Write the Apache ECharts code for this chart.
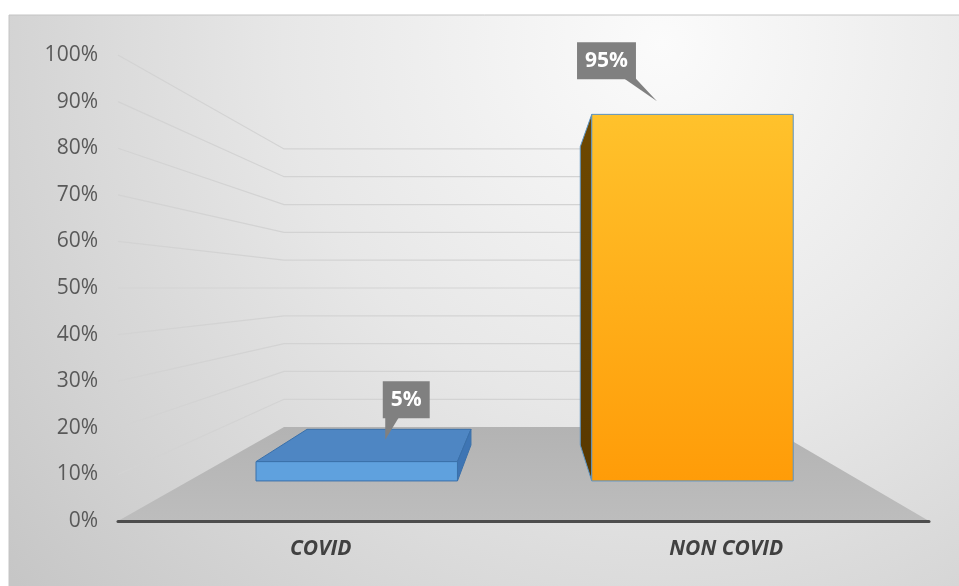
<!DOCTYPE html>
<html>
<head>
<meta charset="utf-8">
<script src="https://cdn.jsdelivr.net/npm/echarts@6/dist/echarts.min.js"></script>
<style>
  html, body { margin: 0; padding: 0; background: #ffffff; }
  #chart { width: 959px; height: 586px; }
</style>
</head>
<body>
<div id="chart"></div>
<script>
// Chart data
const categories = ['COVID', 'NON COVID'];
const shares = [0.05, 0.95];
const wallTicks = [0.1, 0.2, 0.3, 0.4, 0.5, 0.6, 0.7, 0.8, 0.9, 1.0];

// One-point perspective used for the 3D look.
// s = scale factor of a depth plane relative to the front plane (1 = front edge of floor).
const VIEW = {
  vpX: 0.508,        // vanishing point, fraction of plot width
  horizon: 0.5,      // eye height, in axis value units
  sWall: 0.597,      // back wall
  sBarBack: 0.674,   // back faces of the columns
  sBarFront: 0.828,  // front faces of the columns
  barRatio: 0.6      // column width as part of a category band
};

// Callout placement relative to the front-top centre of each column
const CALLOUTS = [
  { box: [49.5, -62], tip: [28.5, -22], base: [-21, -7] },
  { box: [-86, -53.5], tip: [-35.5, -13], base: [16.5, 28.5] }
];

function projector(params, api) {
  const cs = params.coordSys;
  const vx = cs.x + cs.width * VIEW.vpX;
  const vy = api.coord([0, VIEW.horizon])[1];
  const P = (p, s) => [vx + (p[0] - vx) * s, vy + (p[1] - vy) * s];
  return { P, vx, vy, cs };
}

function renderFloor(params, api) {
  const { P, cs } = projector(params, api);
  const yb = cs.y + cs.height;
  const fl = [cs.x, yb], fr = [cs.x + cs.width, yb];
  return {
    type: 'polygon',
    shape: { points: [fl, fr, P(fr, VIEW.sWall), P(fl, VIEW.sWall)] },
    style: {
      fill: new echarts.graphic.LinearGradient(0, 0, 0, 1, [
        { offset: 0, color: '#b3b3b3' },
        { offset: 1, color: '#bdbdbd' }
      ])
    },
    silent: true
  };
}

function renderWallLine(params, api) {
  const { P, cs } = projector(params, api);
  const y = api.coord([0, api.value(1)])[1];
  const l = [cs.x, y], r = [cs.x + cs.width, y];
  return {
    type: 'polyline',
    shape: { points: [l, P(l, VIEW.sWall), P(r, VIEW.sWall)] },
    style: { stroke: '#d3d3d3', lineWidth: 1.2, fill: null },
    silent: true
  };
}

const BAR_STYLES = [
  {
    front: '#5fa1de', top: '#4e86c3', side: '#3e75b4', stroke: '#3a70aa'
  },
  {
    front: new echarts.graphic.LinearGradient(0, 0, 0, 1, [
      { offset: 0, color: '#ffc22c' }, { offset: 1, color: '#ff9c08' }
    ]),
    top: '#ffc22c',
    side: new echarts.graphic.LinearGradient(0, 0, 0, 1, [
      { offset: 0, color: '#6e4800' }, { offset: 1, color: '#583800' }
    ]),
    stroke: '#5b93c4'
  }
];

function renderBar(params, api) {
  const { P, vx, vy } = projector(params, api);
  const idx = api.value(0), val = api.value(1);
  const top = api.coord([idx, val]);
  const bot = api.coord([idx, 0]);
  const half = api.size([1, 0])[0] * VIEW.barRatio / 2;
  const x0 = top[0] - half, x1 = top[0] + half;
  const sf = VIEW.sBarFront, sb = VIEW.sBarBack;
  const FTL = P([x0, top[1]], sf), FTR = P([x1, top[1]], sf);
  const FBL = P([x0, bot[1]], sf), FBR = P([x1, bot[1]], sf);
  const BTL = P([x0, top[1]], sb), BTR = P([x1, top[1]], sb);
  const BBL = P([x0, bot[1]], sb), BBR = P([x1, bot[1]], sb);
  const st = BAR_STYLES[params.dataIndex];
  const children = [];
  const face = (pts, fill) => children.push({
    type: 'polygon', shape: { points: pts },
    style: { fill: fill, stroke: st.stroke, lineWidth: 1, lineJoin: 'round' }
  });
  if (FTL[1] > vy) face([FTL, FTR, BTR, BTL], st.top);
  if (FTR[0] < vx) face([FTR, FBR, BBR, BTR], st.side);
  if (FTL[0] > vx) face([FTL, FBL, BBL, BTL], st.side);
  face([FTL, FTR, FBR, FBL], st.front);

  // value callout
  const c = CALLOUTS[params.dataIndex];
  const ft = [(FTL[0] + FTR[0]) / 2, FTL[1]];
  const bc = [ft[0] + c.box[0], ft[1] + c.box[1]];
  const boxBottom = bc[1] + 18;
  children.push({
    type: 'polygon',
    shape: { points: [
      [bc[0] + c.base[0], boxBottom - 1],
      [bc[0] + c.base[1], boxBottom - 1],
      [ft[0] + c.tip[0], ft[1] + c.tip[1]]
    ] },
    style: { fill: '#808080' }
  });
  children.push({
    type: 'text',
    x: bc[0], y: bc[1],
    style: {
      text: Math.round(val * 100) + '%',
      fill: '#ffffff',
      font: 'bold 21px "Open Sans"',
      align: 'center', verticalAlign: 'middle',
      backgroundColor: '#808080',
      padding: [6, 8, 6, 8],
      lineHeight: 25
    }
  });
  return { type: 'group', children: children };
}

const chart = echarts.init(document.getElementById('chart'), null, { renderer: 'canvas' });
chart.setOption({
  animation: false,
  backgroundColor: '#ffffff',
  graphic: [{
    type: 'rect', z: -10,
    shape: { x: 9, y: 15, width: 960, height: 580 },
    style: {
      fill: new echarts.graphic.RadialGradient(0.68, 0.05, 1.45, [
        { offset: 0, color: '#fbfbfb' },
        { offset: 0.45, color: '#e7e7e7' },
        { offset: 1, color: '#c6c6c6' }
      ]),
      stroke: '#c4c4c4', lineWidth: 1
    },
    silent: true
  }],
  grid: { left: 118, right: 30, top: 55, bottom: 65 },
  xAxis: {
    type: 'category',
    data: categories,
    axisLine: { show: true, lineStyle: { color: '#4d4d4d', width: 3 } },
    axisTick: { show: false },
    splitLine: { show: false },
    axisLabel: {
      color: '#404040', fontSize: 21, fontWeight: 'bold', fontStyle: 'italic',
      fontFamily: '"Open Sans"', margin: 18
    },
    z: 5
  },
  yAxis: {
    type: 'value', min: 0, max: 1, interval: 0.1,
    axisLine: { show: false }, axisTick: { show: false }, splitLine: { show: false },
    axisLabel: {
      color: '#595959', fontSize: 21, fontFamily: '"Open Sans"', margin: 20,
      formatter: v => Math.round(v * 100) + '%'
    }
  },
  series: [
    { type: 'custom', name: 'floor', z: 1, clip: false, silent: true,
      renderItem: renderFloor, data: [[0, 0]] },
    { type: 'custom', name: 'walls', z: 2, clip: false, silent: true,
      renderItem: renderWallLine, data: wallTicks.map(v => [0, v]) },
    { type: 'custom', name: 'share', z: 3, clip: false,
      renderItem: renderBar, data: shares.map((v, i) => [i, v]) }
  ]
});
</script>
</body>
</html>
